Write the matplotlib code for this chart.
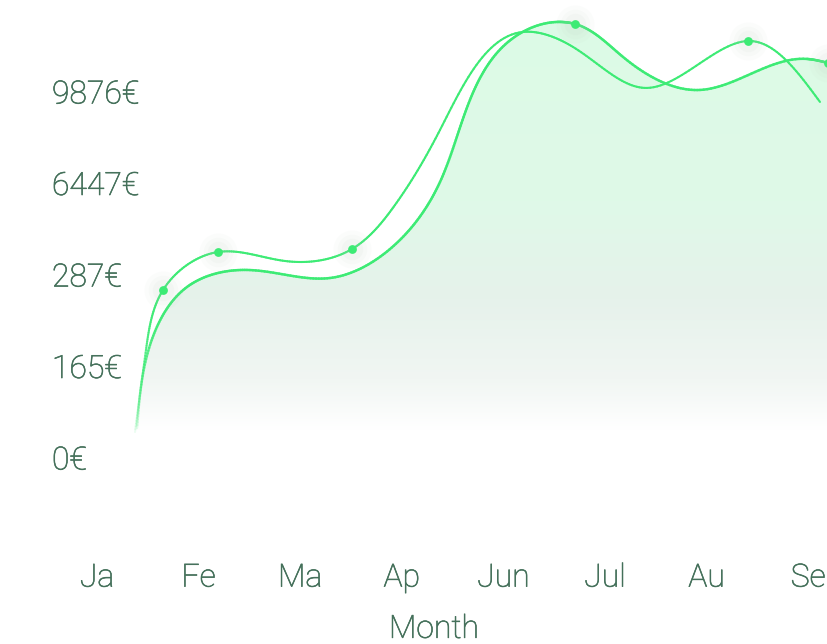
import numpy as np
import matplotlib
matplotlib.use('Agg')
import matplotlib.pyplot as plt
import matplotlib.patheffects as pe
from matplotlib.collections import LineCollection
from matplotlib.colors import LinearSegmentedColormap, to_rgba

plt.rcParams['font.family'] = ['Roboto', 'DejaVu Sans']
plt.rcParams['font.weight'] = 'light'

# month labels and euro tick labels (ticks are evenly spaced, labels are not linear)
months = ['Ja', 'Fe', 'Ma', 'Ap', 'Jun', 'Jul', 'Au', 'Se']
y_labels = ['0€', '165€', '287€', '6447€', '9876€']

# first curve (no fill), in month / tick units
a_x = [0.374, 0.482, 0.650, 1.191, 1.850, 2.510, 2.933, 3.376, 4.193, 4.685, 5.413, 6.407, 7.116]
a_y = [0.284, 1.180, 1.836, 2.251, 2.153, 2.284, 2.765, 3.585, 4.656, 4.492, 4.044, 4.557, 3.891]
a_dots = [2, 3, 5, 11]

# second curve (filled)
b_x = [0.394, 0.522, 0.886, 1.476, 2.293, 2.982, 3.376, 3.671, 4.035, 4.528, 4.705, 5.177, 5.935, 6.988, 7.195]
b_y = [0.328, 1.235, 1.869, 2.055, 1.967, 2.383, 3.016, 3.913, 4.536, 4.765, 4.743, 4.383, 4.022, 4.361, 4.317]
b_dots = [10, 14]

line_col = '#3deb75'
text_col = '#44705a'


def smooth(xs, ys, n=30):
    # parametric natural cubic spline through the points (drawing only)
    p = np.column_stack([np.asarray(xs) * 101.6, np.asarray(ys) * 91.5])
    h = np.linalg.norm(np.diff(p, axis=0), axis=1)
    k = len(p)
    A = np.zeros((k, k))
    A[0, 0] = A[-1, -1] = 1
    rhs = np.zeros((k, 2))
    for i in range(1, k - 1):
        A[i, i - 1] = h[i - 1]
        A[i, i] = 2 * (h[i - 1] + h[i])
        A[i, i + 1] = h[i]
        rhs[i] = 6 * ((p[i + 1] - p[i]) / h[i] - (p[i] - p[i - 1]) / h[i - 1])
    M = np.linalg.solve(A, rhs)
    out = []
    for i in range(k - 1):
        s = np.linspace(0, h[i], n)[:, None]
        a = (h[i] - s) / h[i]
        b = s / h[i]
        c = a * p[i] + b * p[i + 1] + ((a ** 3 - a) * M[i] + (b ** 3 - b) * M[i + 1]) * h[i] ** 2 / 6
        out.append(c if i == 0 else c[1:])
    out = np.vstack(out)
    return out[:, 0] / 101.6, out[:, 1] / 91.5


def faded_line(ax, x, y, lw, zorder):
    pts = np.column_stack([x, y])
    segs = np.stack([pts[:-1], pts[1:]], axis=1)
    ym = 0.5 * (y[:-1] + y[1:])
    alpha = np.clip((ym - 0.22) / 1.5, 0, 1) ** 0.8
    cols = np.array([to_rgba(line_col, a) for a in alpha])
    lc = LineCollection(segs, colors=cols, linewidths=lw, capstyle='round', zorder=zorder)
    ax.add_collection(lc)


fig = plt.figure(figsize=(8.28, 6.44), dpi=100)
ax = fig.add_axes([40 / 828, 1 - 540 / 644, 1 - 40 / 828, 540 / 644])

ax_, ay_ = smooth(a_x, a_y)
bx_, by_ = smooth(b_x, b_y)

# gradient fill under the second curve
cmap = LinearSegmentedColormap.from_list('fill', [
    (0.0, '#ffffff'), (0.06, '#ffffff'), (0.17, '#f1f6f3'),
    (0.345, '#e6f2eb'), (0.56, '#dff9e8'), (1.0, '#dcfbe6')])
grad = np.linspace(0, 1, 256).reshape(-1, 1)
im = ax.imshow(grad, extent=[0.3, 7.3, 0, 5.005], origin='lower', aspect='auto',
               cmap=cmap, zorder=1)
poly = ax.fill(np.r_[bx_, bx_[-1], bx_[0]], np.r_[by_, 0, 0],
               facecolor='none', edgecolor='none')[0]
im.set_clip_path(poly)

faded_line(ax, ax_, ay_, 1.5, 3)
faded_line(ax, bx_, by_, 1.8, 3)

# dots with a soft glow
for xs, ys, idx in [(a_x, a_y, a_dots), (b_x, b_y, b_dots)]:
    px = [xs[i] for i in idx]
    py = [ys[i] for i in idx]
    for s, al in [(750, 0.05), (450, 0.06), (240, 0.07)]:
        ax.scatter(px, py, s=s, color='#b9c9be', alpha=al, linewidths=0, zorder=4, clip_on=False)
    ax.scatter(px, py, s=40, color=line_col, linewidths=0, zorder=5, clip_on=False)

ax.set_xlim(-0.561, 7.195)
ax.set_ylim(-0.896, 5.005)
ax.set_xticks(range(len(months)))
ax.set_xticklabels(months)
ax.set_yticks(range(len(y_labels)))
ax.set_yticklabels(y_labels, ha='left')
ax.tick_params(axis='y', length=0, pad=-8.6, labelsize=23, labelcolor=text_col)
ax.tick_params(axis='x', length=0, pad=17, labelsize=23, labelcolor=text_col)
ax.set_xlabel('Month', fontsize=23, color=text_col, fontweight='light', labelpad=16)
for sp in ax.spines.values():
    sp.set_visible(False)

# the reference text is a little heavier than Roboto Light
stroke = [pe.withStroke(linewidth=0.45, foreground=text_col)]
for t in ax.get_xticklabels() + ax.get_yticklabels() + [ax.xaxis.label]:
    t.set_path_effects(stroke)

fig.savefig('out.png', dpi=100)
